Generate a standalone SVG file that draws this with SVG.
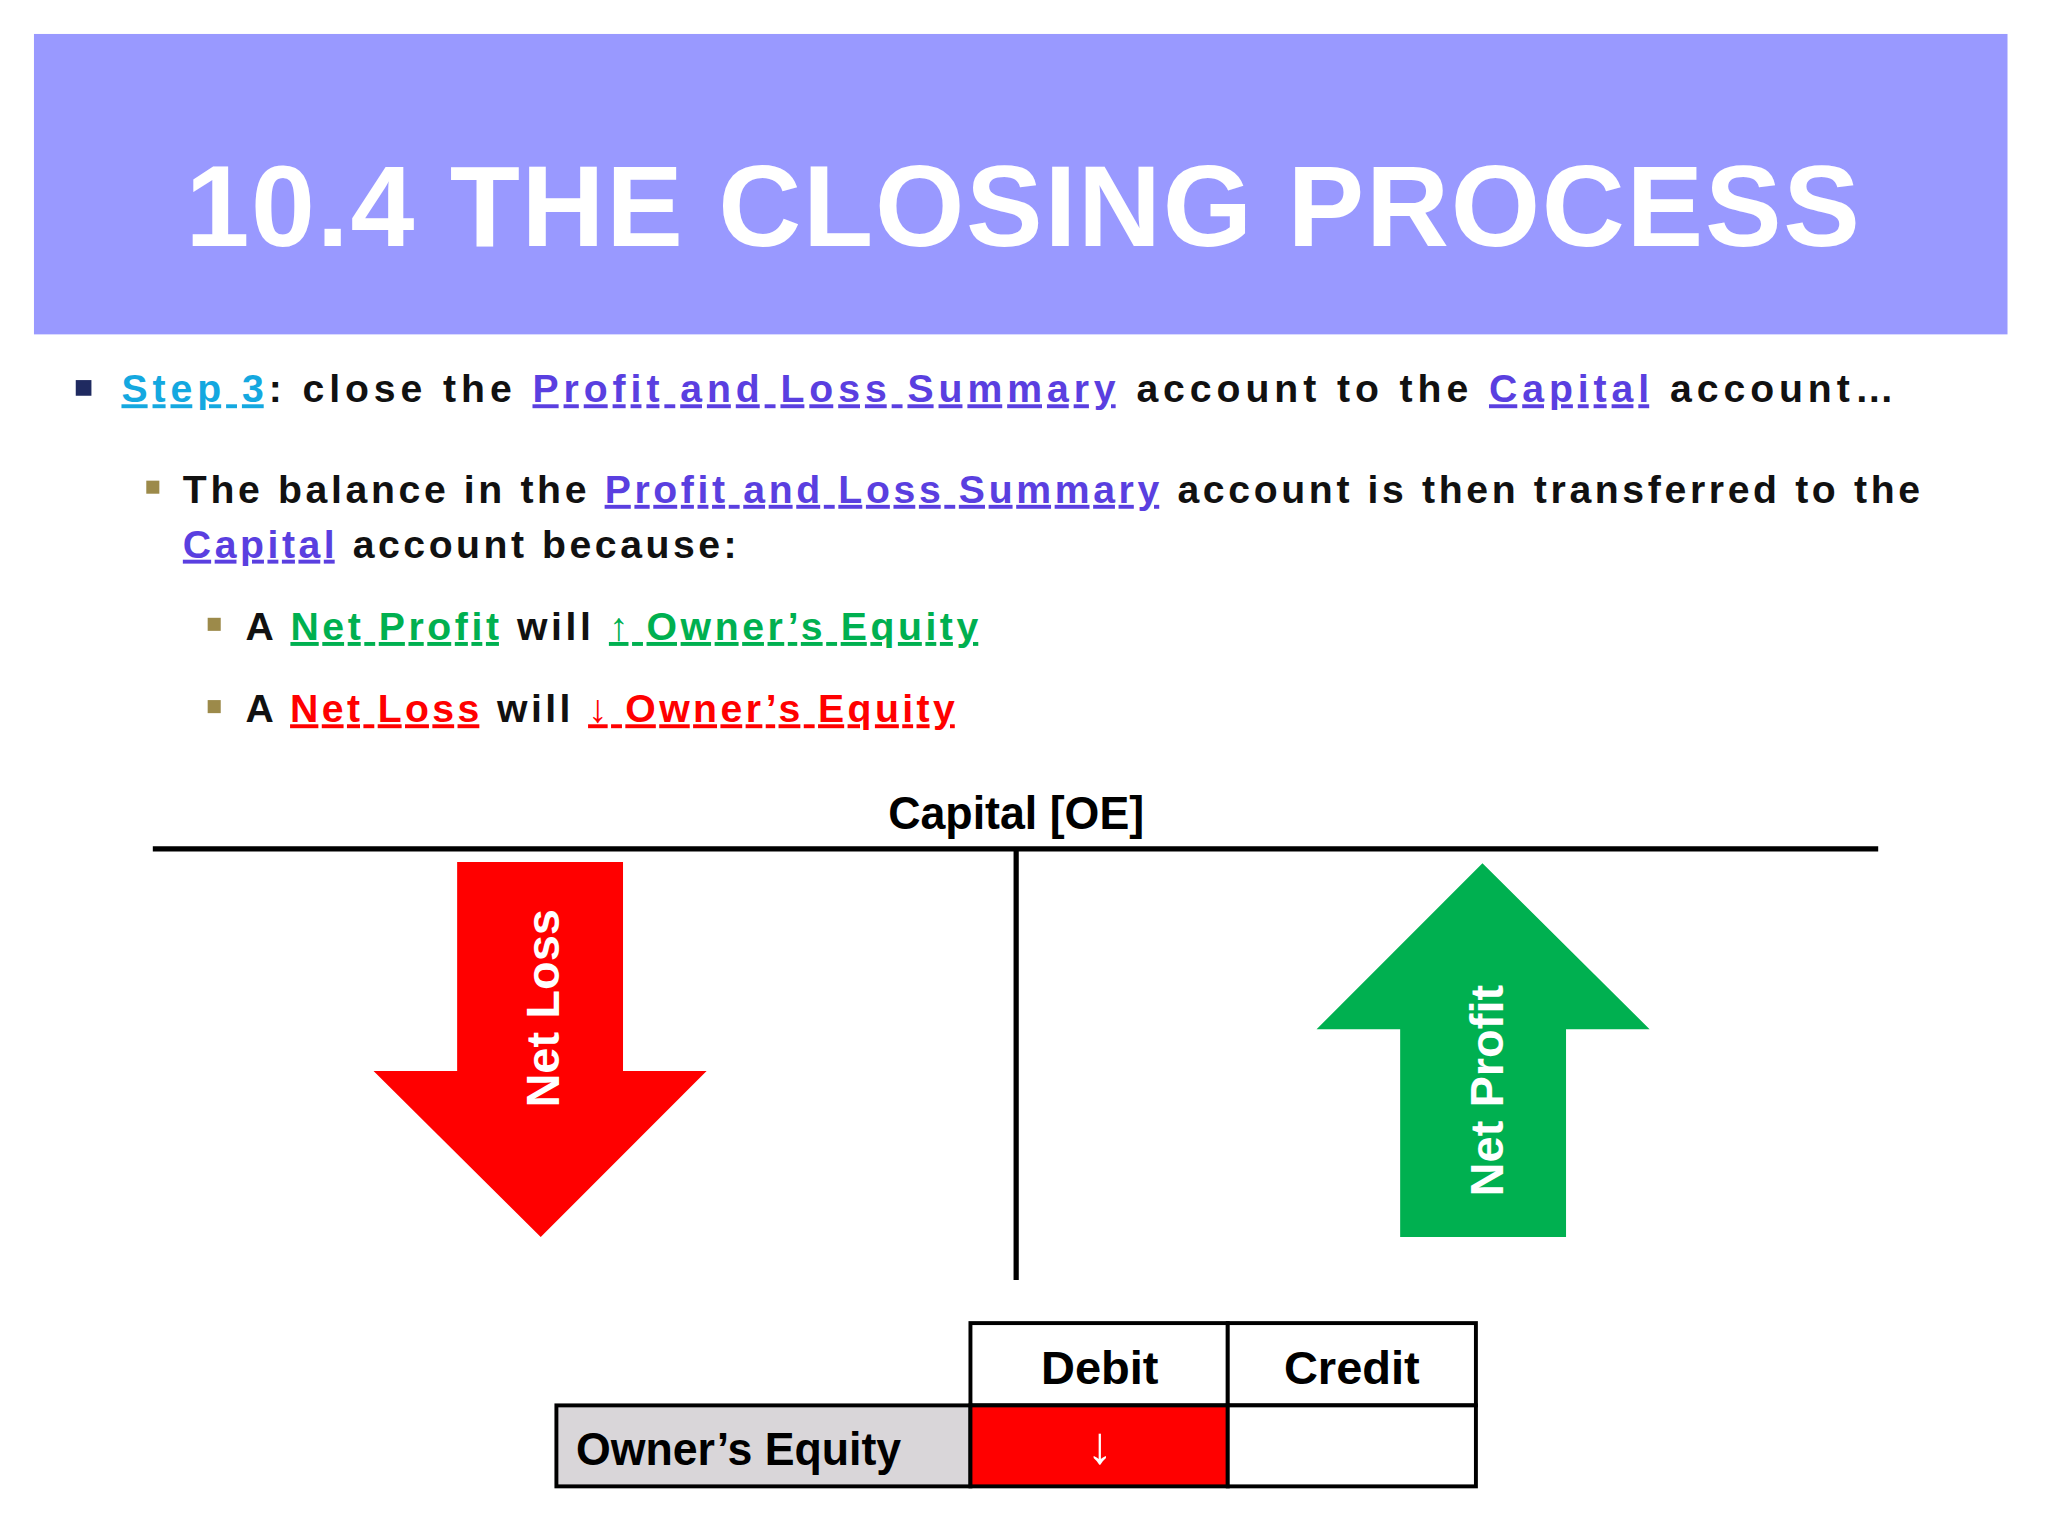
<svg xmlns="http://www.w3.org/2000/svg" width="2048" height="1536" viewBox="0 0 2048 1536">
<style>
.b{font-family:"Liberation Sans",Arial,sans-serif;font-weight:bold;font-size:30px;fill:#111}
.u{text-decoration:underline}
.lk{fill:#5a3fe0}
.st{fill:#14a8e0}
.gr{fill:#00b050}
.rd{fill:#ff0000}
.h{font-family:"Liberation Sans",Arial,sans-serif;font-weight:bold;fill:#000}
.w{font-family:"Liberation Sans",Arial,sans-serif;font-weight:bold;font-size:36px;fill:#fff}
.cell{stroke:#000;stroke-width:3}
</style>
<rect width="2048" height="1536" fill="#fff"/>
<g transform="scale(1.30612)">
<g id="title">
<rect x="26" y="26" width="1511" height="230" fill="#9999ff"/>
<text x="783" y="188" text-anchor="middle" font-family="Liberation Sans,Arial,sans-serif" font-weight="bold" font-size="88" fill="#fff" textLength="1282" lengthAdjust="spacing">10.4 THE CLOSING PROCESS</text>
</g>
<g id="bullets">
<rect x="58" y="291" width="12" height="12" fill="#1f2a60"/>
<text class="b" x="93" y="308" textLength="1357" lengthAdjust="spacing"><tspan class="st u">Step 3</tspan>: close the <tspan class="lk u">Profit and Loss Summary</tspan> account to the <tspan class="lk u">Capital</tspan> account…</text>
<rect x="112" y="368" width="10" height="10" fill="#9c8a4a"/>
<text class="b" x="140" y="385" textLength="1330" lengthAdjust="spacing">The balance in the <tspan class="lk u">Profit and Loss Summary</tspan> account is then transferred to the</text>
<text class="b" x="140" y="427" textLength="424" lengthAdjust="spacing"><tspan class="lk u">Capital</tspan> account because:</text>
<rect x="159" y="473" width="10" height="10" fill="#9c8a4a"/>
<text class="b" x="188" y="490" textLength="561" lengthAdjust="spacing">A <tspan class="gr u">Net Profit</tspan> will <tspan class="gr u">↑ Owner’s Equity</tspan></text>
<rect x="159" y="536" width="10" height="10" fill="#9c8a4a"/>
<text class="b" x="188" y="553" textLength="543" lengthAdjust="spacing">A <tspan class="rd u">Net Loss</tspan> will <tspan class="rd u">↓ Owner’s Equity</tspan></text>
</g>
<g id="taccount">
<text class="h" x="778" y="635" text-anchor="middle" font-size="36" textLength="196" lengthAdjust="spacingAndGlyphs">Capital [OE]</text>
<line x1="117" y1="650" x2="1438" y2="650" stroke="#000" stroke-width="4"/>
<line x1="778" y1="650" x2="778" y2="980" stroke="#000" stroke-width="4"/>
</g>
<g id="netloss">
<polygon points="350,660 477,660 477,820 541,820 414,947 286,820 350,820" fill="#ff0000"/>
<text class="w" transform="translate(428,772) rotate(-90)" text-anchor="middle">Net Loss</text>
</g>
<g id="netprofit">
<polygon points="1135,661 1263,788 1199,788 1199,947 1072,947 1072,788 1008,788" fill="#00b050"/>
<text class="w" transform="translate(1151,835) rotate(-90)" text-anchor="middle">Net Profit</text>
</g>
<g id="table">
<rect class="cell" x="743" y="1013" width="197" height="63" fill="#fff"/>
<rect class="cell" x="940" y="1013" width="190" height="63" fill="#fff"/>
<rect class="cell" x="426" y="1076" width="317" height="62" fill="#d9d6d9"/>
<rect class="cell" x="743" y="1076" width="197" height="62" fill="#ff0000"/>
<rect class="cell" x="940" y="1076" width="190" height="62" fill="#fff"/>
<text class="h" x="842" y="1060" text-anchor="middle" font-size="36">Debit</text>
<text class="h" x="1035" y="1060" text-anchor="middle" font-size="36">Credit</text>
<text class="h" x="441" y="1122" font-size="36" textLength="249" lengthAdjust="spacingAndGlyphs">Owner’s Equity</text>
<text class="h" x="842" y="1120" text-anchor="middle" font-size="40" fill="#fff" style="fill:#fff">↓</text>
</g>
</g>
</svg>
